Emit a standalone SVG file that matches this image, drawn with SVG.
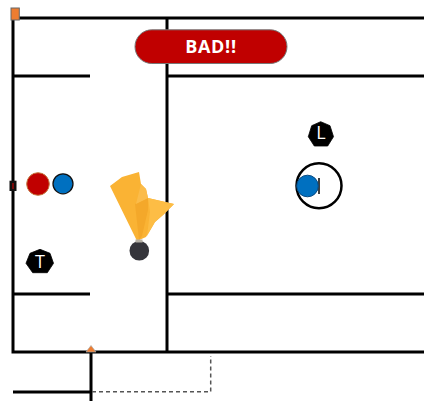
<svg xmlns="http://www.w3.org/2000/svg" width="424" height="401" viewBox="0 0 424 401">
<style>
.c{fill:none;stroke:#000;stroke-width:3}
.lbl{font-family:"Open Sans","Liberation Sans",sans-serif;text-anchor:middle;fill:#fff}
.blue{fill:#0070c0;stroke:#111;stroke-width:1.3}
.hept{fill:#000}
</style>
<rect width="424" height="401" fill="#fff"/>
<g id="connectors">
<path class="c" d="M13 18H424M13 18V352H424M13 76H90M167 18V352M167 76H424M167 294H424M13 294H90M13 392H91M91 352V401"/>
<path d="M92 391.700H210.700V356" fill="none" stroke="#555" stroke-width="1.500" stroke-dasharray="4 3"/>
</g>
<g id="corner-marker"><rect x="11" y="8" width="8.300" height="12" fill="#ed7d31" stroke="#666" stroke-width="1"/></g>
<g id="side-marker"><rect x="9.500" y="180.700" width="7" height="10.300" fill="#111"/><rect x="12" y="183" width="2" height="6" fill="#7a0a0a"/></g>
<g id="bottom-marker"><path d="M91 345.500L96 352H86Z" fill="#ed7d31" stroke="#a9a9a9" stroke-width=".7"/></g>
<g id="bad"><rect x="135" y="29.800" width="152" height="33.700" rx="16.800" fill="#c00000" stroke="#777" stroke-width="1"/><text class="lbl" x="211" y="53.300" font-size="18" font-weight="700" letter-spacing=".7">BAD!!</text></g>
<g id="player-red"><circle cx="38" cy="184" r="11.300" fill="#c00000" stroke="#c4793f" stroke-width="1"/></g>
<g id="player-blue"><circle class="blue" cx="63" cy="183.800" r="10"/></g>
<g id="player-t"><path class="hept" d="M40 249.300L50 253.300L53.500 263.300L47.300 272.700H32.700L26 263.300L30 253.300Z" stroke="#000" stroke-linejoin="round" stroke-width=".8"/><text class="lbl" x="40" y="268.300" font-size="18">T</text></g>
<g id="player-l"><path class="hept" d="M320.700 121.700L330 125.700L333.500 136.700L327.700 146H314.300L308.300 136.700L311.700 125.700Z" stroke="#000" stroke-linejoin="round" stroke-width=".8"/><text class="lbl" x="321" y="139.300" font-size="18">L</text></g>
<g id="target"><circle cx="319" cy="185.800" r="22.500" fill="#fff" stroke="#000" stroke-width="2.500"/><path d="M319 178V194" stroke="#000" stroke-width="1.500"/><circle cx="307.500" cy="186" r="10.800" fill="#0070c0" stroke="#0a4a80" stroke-width="1"/></g>
<g id="flag">
<path d="M110 186L122 177L139 172L141 184L146 189L148 198L174 204L163 215L155 222L146 237L137 241Z" fill="#fab334"/>
<path d="M135 204L148 198L148 210L142 236L139 240Z" fill="#f4a82a"/>
<path d="M141 184L146 189L148 198L136 204Z" fill="#fbbc4a"/>
<path d="M148 198L174 204L163 215L155 222L147 236L150 212Z" fill="#fdbd45"/>
<circle cx="139.300" cy="250.700" r="9.800" fill="#35353b"/>
<rect x="135.500" y="239.500" width="7" height="3" fill="#b5b0a5"/>
</g>
</svg>
